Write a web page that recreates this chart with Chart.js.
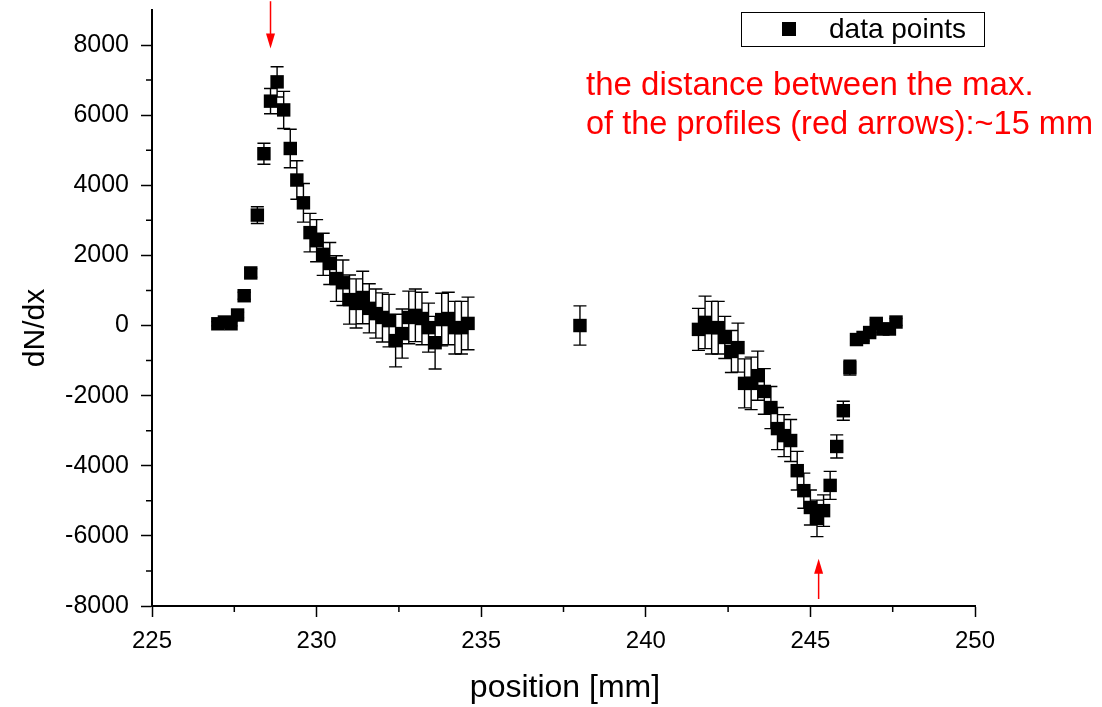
<!DOCTYPE html>
<html>
<head>
<meta charset="utf-8">
<script src="https://cdn.jsdelivr.net/npm/chart.js"></script>
<style>
  body { margin: 0; background: #fff; }
  canvas { display: block; }
</style>
</head>
<body>
<canvas id="profileChart" width="1102" height="707"></canvas>
<script>
"use strict"

// measured profile derivative
var positions = [
  227.0, 227.2, 227.4, 227.6, 227.8, 228.0, 228.2, 228.4, 228.6, 228.8,
  229.0, 229.2, 229.4, 229.6, 229.8, 230.0, 230.2, 230.4, 230.6, 230.8,
  231.0, 231.2, 231.4, 231.6, 231.8, 232.0, 232.2, 232.4, 232.6, 232.8,
  233.0, 233.2, 233.4, 233.6, 233.8, 234.0, 234.2, 234.4, 234.6,
  238.0,
  241.6, 241.8, 242.0, 242.2, 242.4, 242.6, 242.8, 243.0, 243.2, 243.4,
  243.6, 243.8, 244.0, 244.2, 244.4, 244.6, 244.8, 245.0, 245.2, 245.4,
  245.6, 245.8, 246.0, 246.2, 246.4, 246.6, 246.8, 247.0, 247.2, 247.4,
  247.6
];
var dNdx = [
  50, 100, 50, 300, 850, 1500, 3150, 4900, 6400, 6950,
  6150, 5050, 4150, 3500, 2650, 2420, 2030, 1770, 1340, 1220,
  740, 630, 800, 490, 340, 230, 140, -430, -230, 230,
  290, 200, -60, -490, 170, 200, -60, -60, 60,
  0,
  -110, 90, -60, -60, -340, -740, -630, -1650, -1650, -1430,
  -1880, -2340, -2940, -3140, -3280, -4140, -4710, -5190, -5500, -5280,
  -4560, -3450, -2430, -1200, -400, -340, -200, 60, -100, -100,
  100
];
var dNdxErr = [
  60, 60, 60, 80, 100, 120, 240, 300, 360, 430,
  530, 550, 550, 550, 550, 600, 600, 600, 650, 650,
  700, 700, 750, 700, 700, 700, 750, 750, 700, 750,
  750, 750, 700, 750, 750, 750, 750, 750, 750,
  560,
  600, 750, 750, 750, 600, 600, 700, 700, 750, 700,
  650, 600, 600, 600, 600, 550, 500, 500, 520, 450,
  400, 330, 270, 210, 120, 100, 100, 100, 100, 100,
  100
];
var xTicks = [225, 230, 235, 240, 245, 250];
var yTicks = [-8000, -6000, -4000, -2000, 0, 2000, 4000, 6000, 8000];
var noteLines = ["the distance between the max.", "of the profiles (red arrows):~15 mm"];
var arrowMarks = [
  { x: 228.6, from: 9250, to: 7900 },
  { x: 245.25, from: -7800, to: -6650 }
];

var points = positions.map(function(p, i) { return { x: p, y: dNdx[i] }; });
var FONT = '"Liberation Sans", Arial, sans-serif';

var errorBars = {
  id: 'errorBars',
  beforeDatasetsDraw: function(chart) {
    var c = chart.ctx, xs = chart.scales.x, ys = chart.scales.y;
    c.save();
    c.strokeStyle = '#000';
    c.lineWidth = 1.4;
    positions.forEach(function(p, i) {
      var px = xs.getPixelForValue(p);
      var top = ys.getPixelForValue(dNdx[i] + dNdxErr[i]);
      var bot = ys.getPixelForValue(dNdx[i] - dNdxErr[i]);
      c.beginPath();
      c.moveTo(px, top); c.lineTo(px, bot);
      c.moveTo(px - 6.5, top); c.lineTo(px + 6.5, top);
      c.moveTo(px - 6.5, bot); c.lineTo(px + 6.5, bot);
      c.stroke();
    });
    c.restore();
  }
};

var decorations = {
  id: 'decorations',
  afterDraw: function(chart) {
    var c = chart.ctx, xs = chart.scales.x, ys = chart.scales.y, area = chart.chartArea;
    c.save();

    // minor ticks
    c.strokeStyle = '#000';
    c.lineWidth = 1.5;
    c.beginPath();
    for (var mx = 227.5; mx < 250; mx += 5) {
      var px = xs.getPixelForValue(mx);
      c.moveTo(px, area.bottom); c.lineTo(px, area.bottom + 6);
    }
    for (var my = -7000; my <= 7000; my += 2000) {
      var py = ys.getPixelForValue(my);
      c.moveTo(area.left, py); c.lineTo(area.left - 6, py);
    }
    c.stroke();

    // axis titles
    c.fillStyle = '#000';
    c.font = '32px ' + FONT;
    c.textAlign = 'center';
    c.textBaseline = 'middle';
    c.fillText('position [mm]', 565, 688);
    c.font = '30px ' + FONT;
    c.save();
    c.translate(36, 328);
    c.rotate(-Math.PI / 2);
    c.fillText('dN/dx', 0, 0);
    c.restore();

    // legend
    c.lineWidth = 1;
    c.strokeRect(741.5, 12.5, 243, 34);
    c.fillRect(782, 22, 14, 14);
    c.font = '28px ' + FONT;
    c.textAlign = 'left';
    c.fillText('data points', 829, 30);

    // note
    c.fillStyle = '#ff0000';
    c.font = '33px ' + FONT;
    c.fillText(noteLines[0], 586, 86);
    c.fillText(noteLines[1], 586, 125, 507);

    // red arrows
    c.strokeStyle = '#ff0000';
    c.lineWidth = 1.5;
    arrowMarks.forEach(function(a) {
      var ax = xs.getPixelForValue(a.x);
      var y0 = ys.getPixelForValue(a.from), y1 = ys.getPixelForValue(a.to);
      var dir = y1 > y0 ? 1 : -1;
      c.beginPath();
      c.moveTo(ax, y0); c.lineTo(ax, y1 - dir * 10);
      c.stroke();
      c.beginPath();
      c.moveTo(ax, y1);
      c.lineTo(ax - 4.5, y1 - dir * 15);
      c.lineTo(ax + 4.5, y1 - dir * 15);
      c.closePath();
      c.fill();
    });
    c.restore();
  }
};

var ctx = document.getElementById('profileChart').getContext('2d');
var profileChart = new Chart(ctx, {
  type: 'scatter',
  data: {
    datasets: [{
      label: 'data points',
      data: points,
      pointStyle: 'rect',
      pointRadius: 9.5,
      pointHoverRadius: 9.5,
      backgroundColor: '#000',
      borderColor: '#000',
      borderWidth: 0
    }]
  },
  options: {
    responsive: false,
    animation: false,
    events: [],
    layout: { padding: { left: 0, right: 127, top: 10, bottom: 0 } },
    plugins: {
      legend: { display: false },
      tooltip: { enabled: false }
    },
    scales: {
      x: {
        type: 'linear',
        min: 225,
        max: 250,
        afterBuildTicks: function(scale) {
          scale.ticks = xTicks.map(function(v) { return { value: v }; });
        },
        afterFit: function(scale) {
          scale.height = 101;
          scale.paddingLeft = 0;
          scale.paddingRight = 0;
        },
        grid: { drawOnChartArea: false, drawTicks: true, tickLength: 11, color: '#000', tickWidth: 1.5 },
        border: { display: true, color: '#000', width: 2 },
        ticks: {
          color: '#000',
          padding: 10,
          maxRotation: 0,
          callback: function(v) { return String(v); },
          font: { family: FONT, size: 24 }
        }
      },
      y: {
        type: 'linear',
        min: -8000,
        max: 9000,
        afterBuildTicks: function(scale) {
          scale.ticks = yTicks.map(function(v) { return { value: v }; });
        },
        afterFit: function(scale) {
          scale.width = 152;
          scale.paddingTop = 0;
          scale.paddingBottom = 0;
        },
        grid: { drawOnChartArea: false, drawTicks: true, tickLength: 11, color: '#000', tickWidth: 1.5 },
        border: { display: true, color: '#000', width: 2 },
        ticks: {
          color: '#000',
          padding: 12,
          callback: function(v) { return String(v); },
          font: { family: FONT, size: 25 }
        }
      }
    }
  },
  plugins: [errorBars, decorations]
});
</script>
</body>
</html>
